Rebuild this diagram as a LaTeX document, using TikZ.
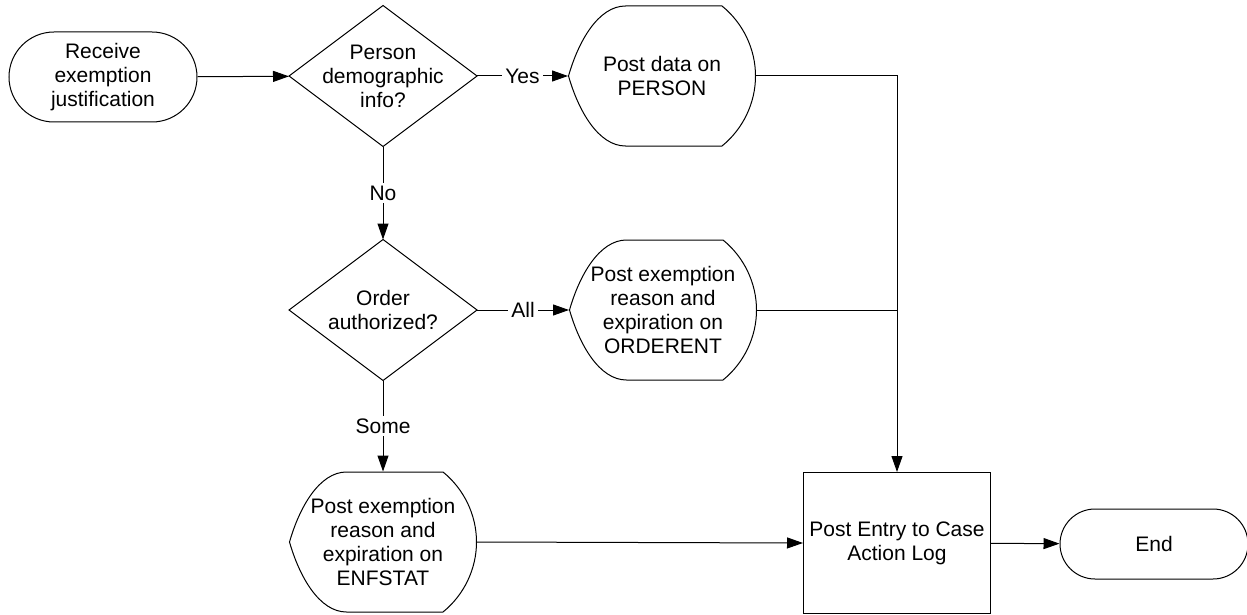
\documentclass[tikz,border=0pt]{standalone}
\usepackage{fontspec}
\setmainfont{Liberation Sans}
\usetikzlibrary{arrows.meta}

\tikzset{
  txt/.style={align=center, inner sep=0pt, font=\fontsize{10.5}{12}\selectfont},
  term/.style={txt, draw, minimum width=94pt},
  proc/.style={txt, draw, minimum width=93.5pt, minimum height=70.5pt},
  decision/.style={txt, minimum width=93.5pt, minimum height=70pt},
  disp/.style={txt, minimum width=93.5pt, minimum height=70pt},
  flow/.style={-{Triangle[length=8pt,width=5.5pt]}},
  lbl/.style={txt, fill=white, inner sep=1.5pt}
}
\newcommand\decline[1]{\draw (#1.west) -- (#1.north) -- (#1.east) -- (#1.south) -- cycle;}
\newcommand\displine[1]{\draw[shift={(#1.center)}] (-93.5,0) .. controls (-83.5,-35) and (-63.5,-70) .. (-36.5,-70) -- (60,-70) .. controls (81,-53) and (93.5,-27) .. (93.5,0) .. controls (93.5,27) and (81,53) .. (60,70) -- (-36.5,70) .. controls (-63.5,70) and (-83.5,35) .. cycle;}

\begin{document}
\begin{tikzpicture}[x=0.5pt, y=-0.5pt, line width=0.5pt]
\useasboundingbox (0,0) rectangle (1247,615);
\node[term, minimum height=45pt, rounded corners=22.5pt] (recv) at (103,77) {Receive\\exemption\\justification};
\node[decision] (person) at (383,76) {Person\\demographic\\info?};
\node[disp] (postperson) at (662,76) {Post data on\\PERSON};
\node[decision] (order) at (383,310) {Order\\authorized?};
\node[disp] (orderent) at (663,310) {Post exemption\\reason and\\expiration on\\ORDERENT};
\node[disp] (enfstat) at (383,542) {Post exemption\\reason and\\expiration on\\ENFSTAT};
\node[proc] (log) at (897,543) {Post Entry to Case\\Action Log};
\node[term, minimum height=35pt, rounded corners=17.5pt] (end) at (1154,544) {End};
\decline{person}
\decline{order}
\displine{postperson}
\displine{orderent}
\displine{enfstat}
\draw[flow] (recv) -- (person);
\draw[flow] (person.east) -- node[lbl] {Yes} (postperson.west);
\draw[flow] (person.south) -- node[lbl] {No} (order.north);
\draw[flow] (order.east) -- node[lbl] {All} (orderent.west);
\draw[flow] (order.south) -- node[lbl] {Some} (enfstat.north);
\draw[flow] (postperson.east) -| (log.north);
\draw (orderent.east) -- (orderent.east -| log.north);
\draw[flow] (enfstat.east) -- (log.west);
\draw[flow] (log) -- (end);
\end{tikzpicture}
\end{document}
